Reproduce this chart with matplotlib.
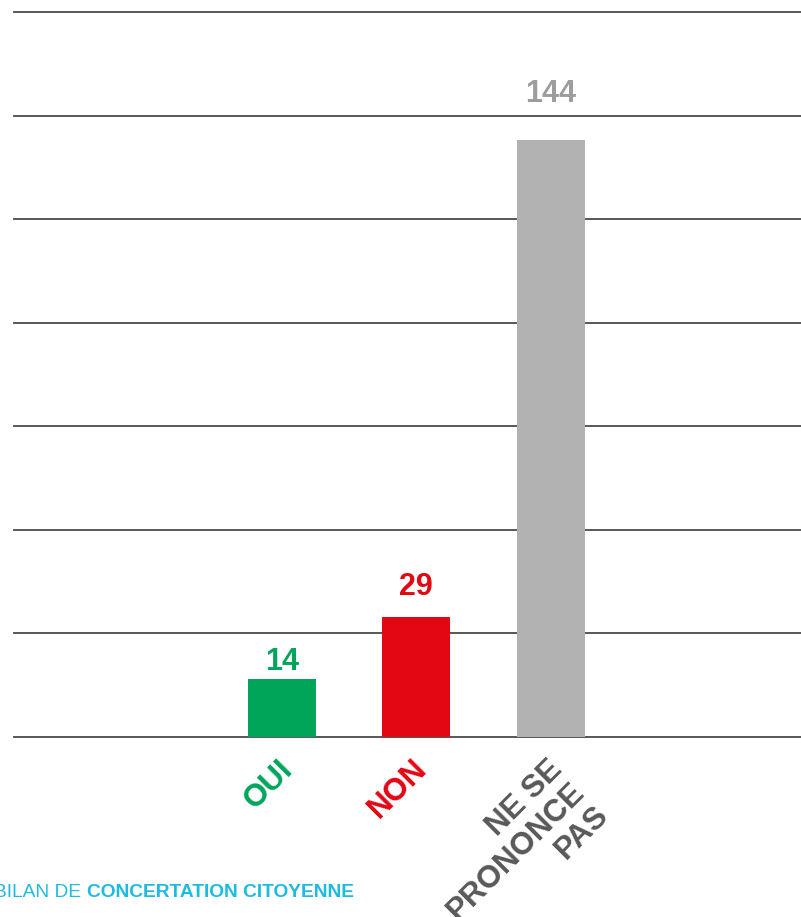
import matplotlib
matplotlib.use("Agg")
import matplotlib.pyplot as plt

categories = ["OUI", "NON", "NE SE\nPRONONCE\nPAS"]
values = [14, 29, 144]
bar_colors = ["#00a55a", "#e30613", "#b2b2b2"]
value_colors = ["#00a55a", "#e30613", "#9d9d9d"]
label_colors = ["#00a55a", "#e30613", "#595959"]
grid_ticks = [0, 25, 50, 75, 100, 125, 150, 175]

plt.rcParams['font.family'] = ['Liberation Sans', 'DejaVu Sans']

W, H = 801, 917
fig = plt.figure(figsize=(W / 100, H / 100), dpi=100)
ax = fig.add_axes([14 / W, (H - 737) / H, 1 - 14 / W, (737 - 12) / H])

x = list(range(len(categories)))
ax.bar(x, values, width=0.505, color=bar_colors, zorder=2)

ax.set_ylim(0, 175)
ax.set_xlim(-1.99, 3.86)
for t in grid_ticks:
    ax.axhline(t, color="#4a4a4a", lw=1.3, zorder=1, clip_on=False)

for s in ax.spines.values():
    s.set_visible(False)
ax.set_xticks([])
ax.set_yticks([])

# vertical gap (pixels) between each bar top and its value label baseline
label_gaps = [9, 22, 38]
for xi, v, c, g in zip(x, values, value_colors, label_gaps):
    ax.annotate(str(v), xy=(xi, v), xytext=(0, g), textcoords="offset pixels",
                ha="center", va="baseline", fontsize=22, fontweight="bold", color=c)

for xi, lab, c in zip(x, categories, label_colors):
    ax.annotate(lab, xy=(xi, 0), xytext=(-4, -17), textcoords="offset pixels",
                ha="right", va="top", rotation=45, rotation_mode="anchor",
                multialignment="right", linespacing=1.12,
                fontsize=22.5, fontweight="bold", color=c, annotation_clip=False)

fig.text(-6 / W, (H - 897) / H, "BILAN DE", fontsize=13.8, color="#1ebbe0",
         ha="left", va="baseline")
fig.text(87 / W, (H - 897) / H, "CONCERTATION CITOYENNE", fontsize=13.8,
         fontweight="bold", color="#1ebbe0", ha="left", va="baseline")

fig.savefig("out.png", dpi=100)
